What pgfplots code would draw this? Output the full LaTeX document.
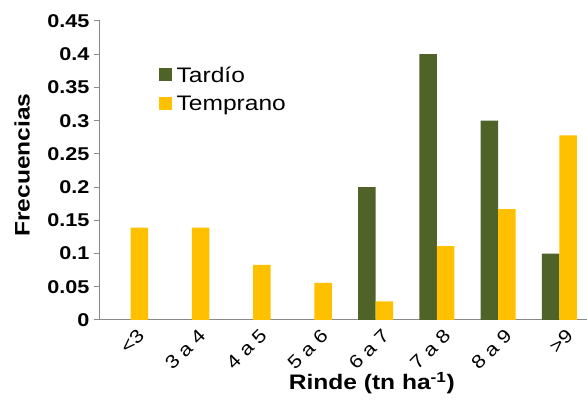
\documentclass[border=0pt]{standalone}
\usepackage{pgfplots}
\pgfplotsset{compat=1.18}
\usepackage{fontspec}
\setmainfont{Liberation Sans}[FakeStretch=1.17]
\definecolor{tardio}{HTML}{4F6228}
\definecolor{temprano}{HTML}{FFC000}
\definecolor{axgray}{HTML}{898989}
\begin{document}
\begin{tikzpicture}
\useasboundingbox (-100pt,-81pt) rectangle (487pt,320pt);
\begin{axis}[
  anchor=south west, at={(0pt,0pt)},
  scale only axis, width=487pt, height=299pt,
  ybar=0pt, bar width=17.5pt,
  xmin=-0.5, xmax=7.45, ymin=0, ymax=0.45,
  axis x line=bottom, axis y line=left,
  axis line style={-, axgray, line width=1pt},
  tick style={axgray, line width=1pt},
  tick align=outside,
  major tick length=6pt, minor tick length=6pt,
  xtick={0,...,7},
  xticklabels={<3,3 a 4,4 a 5,5 a 6,6 a 7,7 a 8,8 a 9,>9},
  x tick style={draw=none},
  minor xtick={-0.5,0.5,1.5,2.5,3.5,4.5,5.5,6.5},
  minor x tick style={axgray, line width=1pt},
  ytick={0,0.05,...,0.45},
  yticklabels={0,0.05,0.1,0.15,0.2,0.25,0.3,0.35,0.4,0.45},
  yticklabel style={font=\fontsize{18.5}{20}\selectfont\bfseries, anchor=east, xshift=-1pt},
  xticklabel style={font=\fontsize{18.5}{20}\selectfont, rotate=45, anchor=north east, inner sep=0pt, xshift=3pt, yshift=-5pt},
  xlabel={Rinde (tn ha\textsuperscript{-1})},
  ylabel={Frecuencias},
  xlabel style={font=\fontsize{21}{23}\selectfont\bfseries, at={(axis description cs:0.558,-0.211)}, anchor=center},
  ylabel style={font=\fontsize{21}{23}\selectfont\bfseries, at={(axis description cs:-0.160,0.518)}, anchor=center, rotate=0},
  legend style={at={(axis description cs:0.12,0.855)}, anchor=north west, draw=none, fill=none,
    font=\fontsize{21}{23}\selectfont, row sep=9pt, inner sep=0pt},
  legend cell align=left,
]
\addplot[fill=tardio, draw=none, legend image code/.code={\fill[tardio] (0pt,-6pt) rectangle (13pt,7pt);}] coordinates {(4,0.2) (5,0.4) (6,0.3) (7,0.1)};
\addplot[fill=temprano, draw=none, legend image code/.code={\fill[temprano] (0pt,-6pt) rectangle (13pt,7pt);}] coordinates {(0,0.139) (1,0.139) (2,0.083) (3,0.056) (4,0.028) (5,0.111) (6,0.167) (7,0.278)};
\legend{\hspace{3pt}Tardío,\hspace{3pt}Temprano}
\end{axis}
\end{tikzpicture}
\end{document}
